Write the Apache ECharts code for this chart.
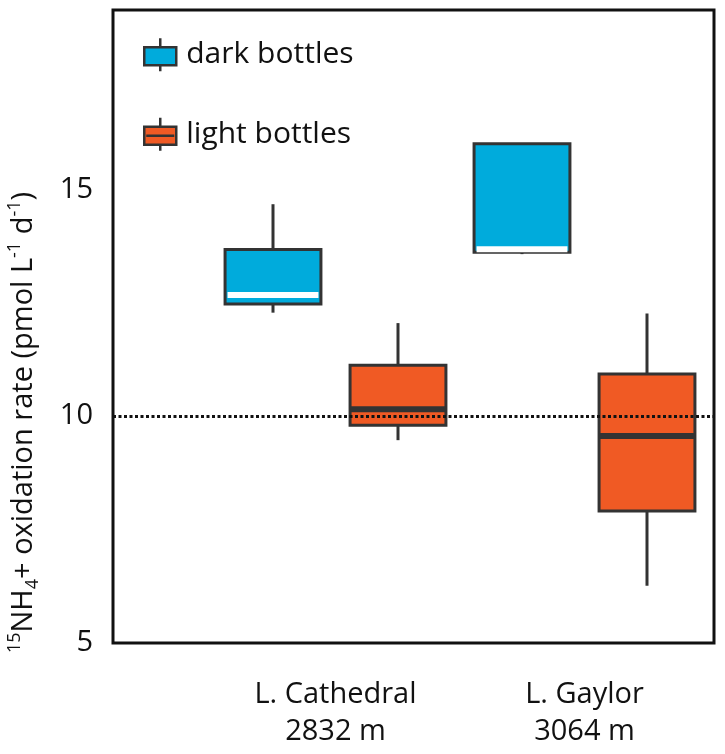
<!DOCTYPE html>
<html><head><meta charset="utf-8">
<script src="https://cdn.jsdelivr.net/npm/echarts@6/dist/echarts.min.js"></script>
<style>html,body{margin:0;padding:0;background:#fff}#c{width:725px;height:754px}</style>
</head><body><div id="c"></div>
<script>
// ---- data ----
const sites = ['L. Cathedral\n2832 m', 'L. Gaylor\n3064 m'];
const seriesNames = ['dark bottles', 'light bottles'];
// each box: [whisker low, Q1, median, Q3, whisker high]
const darkBoxes = [
  [12.28, 12.47, 12.67, 13.67, 14.67],
  [13.57, 13.61, 13.68, 16.00, 16.00]
];
const lightBoxes = [
  [9.47, 9.80, 10.15, 11.12, 12.05],
  [6.26, 7.91, 9.56, 10.93, 12.26]
];
const yTicks = [5, 10, 15];
const yMin = 5, yMax = 18.95;
const referenceLine = 10;

// ---- styles ----
const FONT = 'Open Sans';
const INK = '#111';
const EDGE = '#333';
const BLUE = '#00abdc';
const ORANGE = '#f05a24';

function toData(boxes) {
  return boxes.map((b, i) => [i].concat(b));
}

function makeRender(offsetFrac, fill, medianColor, medianInset) {
  return function (params, api) {
    const cat = api.value(0);
    const band = api.size([1, 0])[0];
    const cx = api.coord([cat, yMin])[0] + offsetFrac * band;
    const w = band * 0.385;
    const yLow = api.coord([cat, api.value(1)])[1];
    const yQ1 = api.coord([cat, api.value(2)])[1];
    const yMed = api.coord([cat, api.value(3)])[1];
    const yQ3 = api.coord([cat, api.value(4)])[1];
    const yHigh = api.coord([cat, api.value(5)])[1];
    return {
      type: 'group',
      children: [
        { type: 'line', shape: { x1: cx, y1: yHigh, x2: cx, y2: yLow },
          style: { stroke: EDGE, lineWidth: 3 } },
        { type: 'rect', shape: { x: cx - w / 2, y: yQ3, width: w, height: yQ1 - yQ3 },
          style: { fill: fill, stroke: EDGE, lineWidth: 3 } },
        { type: 'line', shape: { x1: cx - w / 2 + medianInset, y1: yMed, x2: cx + w / 2 - medianInset, y2: yMed },
          style: { stroke: medianColor, lineWidth: 6 } }
      ]
    };
  };
}

const iconDark = 'path://M16 0 V9 M0 9 H32 V27 H0 Z M16 27 V33';
const iconLight = 'path://M16 0 V9 M0 9 H32 V27 H0 Z M2 18 H30 M16 27 V33';

const chart = echarts.init(document.getElementById('c'), null, { renderer: 'canvas' });
chart.setOption({
  animation: false,
  backgroundColor: '#fff',
  textStyle: { fontFamily: FONT },
  grid: [
    { left: 113, right: 11, top: 10, bottom: 111, containLabel: false, outerBoundsMode: 'none',
      show: true, borderColor: INK, borderWidth: 3, backgroundColor: 'transparent' },
    { left: 211, right: 16, top: 10, bottom: 111, containLabel: false, outerBoundsMode: 'none' }
  ],
  legend: {
    orient: 'vertical',
    left: 138,
    top: 32,
    itemWidth: 42,
    itemHeight: 33,
    itemGap: 44,
    selectedMode: false,
    textStyle: { fontFamily: FONT, fontSize: 30, color: INK },
    data: [
      { name: seriesNames[0], icon: iconDark, itemStyle: { color: BLUE, borderColor: EDGE, borderWidth: 2.5 } },
      { name: seriesNames[1], icon: iconLight, itemStyle: { color: ORANGE, borderColor: EDGE, borderWidth: 2.5 } }
    ]
  },
  xAxis: [
    { gridIndex: 0, type: 'value', min: 0, max: 1, show: false },
    {
      gridIndex: 1, type: 'category', data: sites,
      axisLine: { show: false }, axisTick: { show: false }, splitLine: { show: false },
      axisLabel: { interval: 0, fontFamily: FONT, fontSize: 29, lineHeight: 37, color: INK, margin: 33 }
    }
  ],
  yAxis: [
    {
      gridIndex: 0, type: 'value', min: yMin, max: yMax, interval: 5,
      axisLine: { show: false }, axisTick: { show: false }, splitLine: { show: false },
      axisLabel: {
        fontFamily: FONT, fontSize: 29, color: INK, margin: 20,
        formatter: v => (yTicks.indexOf(v) >= 0 ? String(v) : '')
      },
      name: '{sup|15}{n|NH}{sub|4}{n|+ oxidation rate (pmol L}{sup|-1}{n| d}{sup|-1}{n|)}',
      nameLocation: 'middle',
      nameGap: 71,
      nameMoveOverlap: false,
      nameTextStyle: {
        fontFamily: FONT, fontSize: 29, color: INK,
        padding: [0, 192, 0, 0],
        rich: {
          n: { fontFamily: FONT, fontSize: 29, color: INK, lineHeight: 36 },
          sup: { fontFamily: FONT, fontSize: 18, color: INK, lineHeight: 18, verticalAlign: 'top' },
          sub: { fontFamily: FONT, fontSize: 18, color: INK, lineHeight: 18, verticalAlign: 'bottom' }
        }
      }
    },
    { gridIndex: 1, type: 'value', min: yMin, max: yMax, show: false }
  ],
  series: [
    {
      name: 'reference', type: 'line', xAxisIndex: 0, yAxisIndex: 0, data: [], z: 1,
      markLine: {
        silent: true, symbol: 'none', label: { show: false },
        lineStyle: { color: INK, width: 3, type: [3, 2.5] },
        data: [{ yAxis: referenceLine }]
      }
    },
    {
      name: seriesNames[0], type: 'custom', xAxisIndex: 1, yAxisIndex: 1, z: 3,
      itemStyle: { color: BLUE },
      encode: { x: 0, y: [1, 2, 3, 4, 5] },
      renderItem: makeRender(-0.251, BLUE, '#fff', 2.5),
      data: toData(darkBoxes)
    },
    {
      name: seriesNames[1], type: 'custom', xAxisIndex: 1, yAxisIndex: 1, z: 3,
      itemStyle: { color: ORANGE },
      encode: { x: 0, y: [1, 2, 3, 4, 5] },
      renderItem: makeRender(0.251, ORANGE, EDGE, 0),
      data: toData(lightBoxes)
    }
  ]
});
</script>
</body></html>
